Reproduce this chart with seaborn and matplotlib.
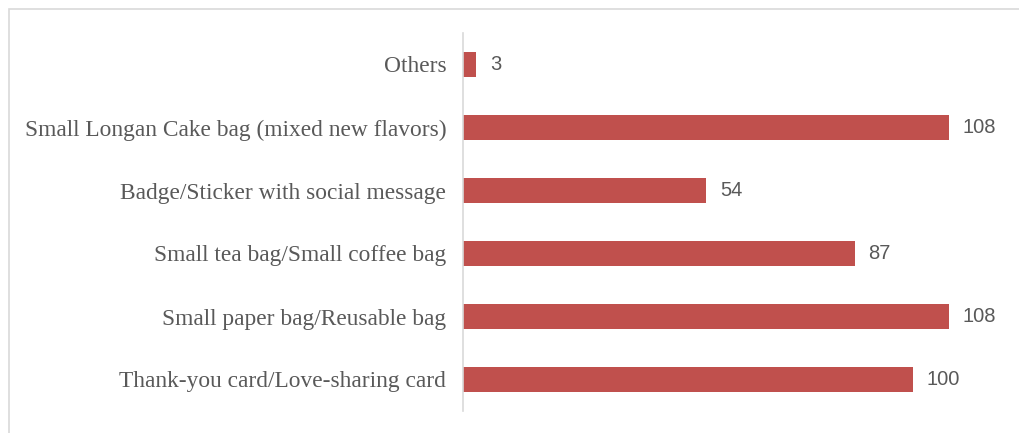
import matplotlib
matplotlib.use("Agg")
import matplotlib.pyplot as plt
from matplotlib.patches import Rectangle
import seaborn as sns
import pandas as pd

categories = [
    "Others",
    "Small Longan Cake bag (mixed new flavors)",
    "Badge/Sticker with social message",
    "Small tea bag/Small coffee bag",
    "Small paper bag/Reusable bag",
    "Thank-you card/Love-sharing card",
]
counts = [3, 108, 54, 87, 108, 100]

df = pd.DataFrame({"item": categories, "count": counts})

sns.set_theme(style="white")
plt.rcParams["font.family"] = ["Liberation Serif", "DejaVu Serif"]

bar_color = "#C0504D"
text_color = "#595959"

fig = plt.figure(figsize=(10.2, 4.33), dpi=100)
fig.patch.set_facecolor("white")

# light chart-area frame (only its top and left edges fall inside the canvas)
fig.patches.append(Rectangle((9 / 1020, -0.05), 1.2, 1 - 9 / 433 + 0.05,
                             transform=fig.transFigure, fill=False,
                             edgecolor="#D9D9D9", linewidth=1.2, zorder=0))

ax = fig.add_axes([463 / 1020, 1 - 411 / 433, (1003 - 463) / 1020, (411 - 33) / 433])

sns.barplot(data=df, x="count", y="item", orient="h", color=bar_color,
            width=0.4, saturation=1, ax=ax, edgecolor="none")

ax.set_xlim(0, 120)
ax.set_ylim(len(categories) - 0.5, -0.5)
ax.set_xlabel("")
ax.set_ylabel("")
ax.set_xticks([])

for s in ["top", "right", "bottom"]:
    ax.spines[s].set_visible(False)
ax.spines["left"].set_color("#D9D9D9")
ax.spines["left"].set_linewidth(1.2)

ax.tick_params(axis="y", length=0, pad=12, labelsize=16.8, labelcolor=text_color)
for lbl in ax.get_yticklabels():
    lbl.set_fontfamily(["Liberation Serif", "DejaVu Serif"])

for i, v in enumerate(counts):
    ax.annotate(str(v), xy=(v, i), xytext=(10, 0), textcoords="offset points",
                ha="left", va="center", fontsize=14.5, color=text_color,
                family=["Liberation Sans", "DejaVu Sans"])

fig.savefig("out.png", dpi=100, facecolor="white")
